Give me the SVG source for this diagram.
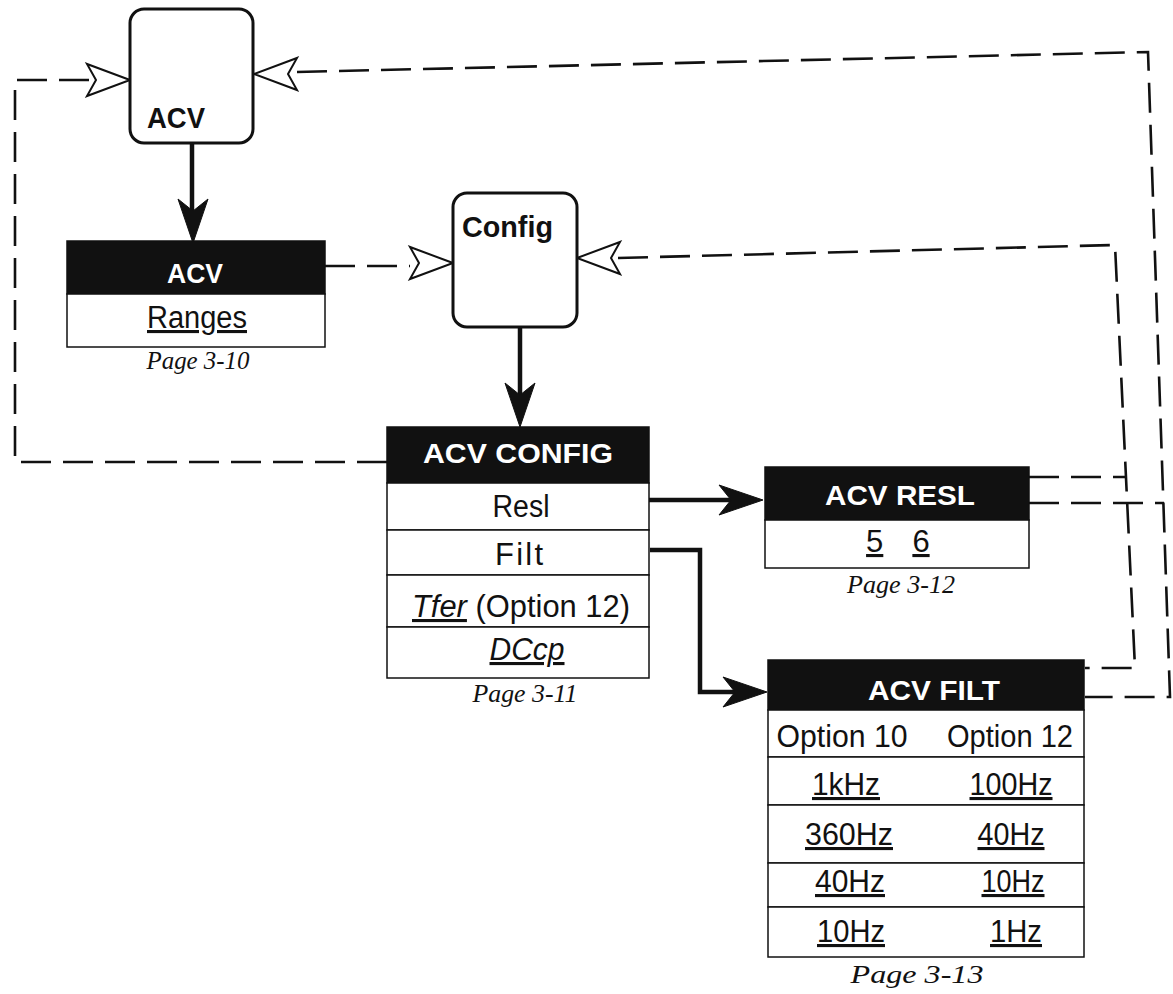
<svg xmlns="http://www.w3.org/2000/svg" width="1173" height="994" viewBox="0 0 1173 994">
<style>
.bg{fill:#fff}
.hdr{fill:#111;stroke:#111;stroke-width:1.5}
.cell{fill:#fff;stroke:#111;stroke-width:1.5}
.box{fill:#fff;stroke:#111;stroke-width:3}
.ht{font-family:'Liberation Sans',Arial,Helvetica,sans-serif;font-weight:bold;font-size:28px;fill:#fff;text-anchor:middle}
.bt{font-family:'Liberation Sans',Arial,Helvetica,sans-serif;font-weight:bold;font-size:29px;fill:#111}
.t{font-family:'Liberation Sans',Arial,Helvetica,sans-serif;font-size:31px;fill:#111;text-anchor:middle}
.u{text-decoration:underline}
.pg{font-family:'Liberation Serif','Times New Roman',serif;font-style:italic;font-size:25px;fill:#111;text-anchor:middle}
.dash{fill:none;stroke:#111;stroke-width:2.6;stroke-dasharray:30 12}
.solid{fill:none;stroke:#111;stroke-width:4.5}
.hollow{fill:#fff;stroke:#111;stroke-width:2;stroke-linejoin:miter}
.filled{fill:#111;stroke:#111;stroke-width:1}
</style>
<defs>
<path id="ha" d="M0,0 L-43,-16 L-34,0 L-43,16 Z"/>
<path id="fa" d="M0,0 L-44,-15 L-32,0 L-44,15 Z"/>
</defs>
<rect class="bg" x="0" y="0" width="1173" height="994"/>

<g id="connectors">
  <path class="dash" d="M387,462 H15 V80 H92"/>
  <path class="dash" d="M297,72 L1148,52 L1170,697 L1085,697"/>
  <path class="dash" d="M1029,503 L1164,503"/>
  <path class="dash" d="M618,258 L1115,245 L1135,668 L1085,668"/>
  <path class="dash" d="M1029,477 L1126,477"/>
  <path class="dash" d="M325,266 H410"/>
  <path class="solid" d="M192,143 V212"/>
  <path class="solid" d="M520,327 V395"/>
  <path class="solid" d="M649,500 H735"/>
  <path class="solid" d="M650,550 H700 V692 H738"/>
  <use href="#fa" class="filled" transform="translate(193,243) rotate(90)"/>
  <use href="#fa" class="filled" transform="translate(520,427) rotate(90)"/>
  <use href="#fa" class="filled" transform="translate(763,500)"/>
  <use href="#fa" class="filled" transform="translate(767,692)"/>
  <use href="#ha" class="hollow" transform="translate(130,80)"/>
  <use href="#ha" class="hollow" transform="translate(254,74) scale(-1,1)"/>
  <use href="#ha" class="hollow" transform="translate(453,263)"/>
  <use href="#ha" class="hollow" transform="translate(577,258) scale(-1,1)"/>
</g>

<g id="acv-key">
  <rect class="box" x="130" y="9" width="123" height="134" rx="14"/>
  <text class="bt" x="147" y="128" textLength="58" lengthAdjust="spacingAndGlyphs">ACV</text>
</g>

<g id="config-key">
  <rect class="box" x="453" y="193" width="124" height="134" rx="14"/>
  <text class="bt" x="462" y="237" textLength="91" lengthAdjust="spacingAndGlyphs">Config</text>
</g>

<g id="acv-menu">
  <rect class="hdr" x="67" y="241" width="258" height="53"/>
  <rect class="cell" x="67" y="294" width="258" height="53"/>
  <text class="ht" x="195" y="283" textLength="56" lengthAdjust="spacingAndGlyphs">ACV</text>
  <text class="t u" x="197" y="328" textLength="100" lengthAdjust="spacingAndGlyphs">Ranges</text>
  <text class="pg" x="198" y="369" textLength="103" lengthAdjust="spacingAndGlyphs">Page 3-10</text>
</g>

<g id="acv-config-menu">
  <rect class="hdr" x="387" y="427" width="262" height="56"/>
  <rect class="cell" x="387" y="483" width="262" height="47"/>
  <rect class="cell" x="387" y="530" width="262" height="45"/>
  <rect class="cell" x="387" y="575" width="262" height="52"/>
  <rect class="cell" x="387" y="627" width="262" height="51"/>
  <text class="ht" x="518" y="463" textLength="190" lengthAdjust="spacingAndGlyphs">ACV CONFIG</text>
  <text class="t" x="521" y="517" textLength="57" lengthAdjust="spacingAndGlyphs">Resl</text>
  <text class="t" x="519" y="565" textLength="48" lengthAdjust="spacing">Filt</text>
  <text class="t" x="521" y="617" textLength="218" lengthAdjust="spacingAndGlyphs"><tspan class="u" font-style="italic">Tfer</tspan> (Option 12)</text>
  <text class="t u" x="527" y="660" font-style="italic" textLength="75" lengthAdjust="spacingAndGlyphs">DCcp</text>
  <text class="pg" x="525" y="702" textLength="105" lengthAdjust="spacingAndGlyphs">Page 3-11</text>
</g>

<g id="acv-resl-menu">
  <rect class="hdr" x="765" y="467" width="264" height="53"/>
  <rect class="cell" x="765" y="520" width="264" height="48"/>
  <text class="ht" x="900" y="505" textLength="150" lengthAdjust="spacingAndGlyphs">ACV RESL</text>
  <text class="t" y="552"><tspan class="u" x="879">5</tspan> <tspan class="u" x="921">6</tspan></text>
  <text class="pg" x="901" y="593" textLength="108" lengthAdjust="spacingAndGlyphs">Page 3-12</text>
</g>

<g id="acv-filt-menu">
  <rect class="hdr" x="768" y="660" width="316" height="50"/>
  <rect class="cell" x="768" y="710" width="316" height="47"/>
  <rect class="cell" x="768" y="757" width="316" height="48"/>
  <rect class="cell" x="768" y="805" width="316" height="58"/>
  <rect class="cell" x="768" y="863" width="316" height="44"/>
  <rect class="cell" x="768" y="907" width="316" height="50"/>
  <text class="ht" x="934" y="700" textLength="132" lengthAdjust="spacingAndGlyphs">ACV FILT</text>
  <text class="t" x="842" y="747" textLength="131" lengthAdjust="spacingAndGlyphs">Option 10</text>
  <text class="t" x="1010" y="747" textLength="126" lengthAdjust="spacingAndGlyphs">Option 12</text>
  <text class="t u" x="846" y="795" textLength="68" lengthAdjust="spacingAndGlyphs">1kHz</text>
  <text class="t u" x="1011" y="795" textLength="83" lengthAdjust="spacingAndGlyphs">100Hz</text>
  <text class="t u" x="849" y="845" textLength="88" lengthAdjust="spacingAndGlyphs">360Hz</text>
  <text class="t u" x="1011" y="845" textLength="67" lengthAdjust="spacingAndGlyphs">40Hz</text>
  <text class="t u" x="850" y="892" textLength="70" lengthAdjust="spacingAndGlyphs">40Hz</text>
  <text class="t u" x="1013" y="892" textLength="63" lengthAdjust="spacingAndGlyphs">10Hz</text>
  <text class="t u" x="851" y="942" textLength="68" lengthAdjust="spacingAndGlyphs">10Hz</text>
  <text class="t u" x="1016" y="942" textLength="52" lengthAdjust="spacingAndGlyphs">1Hz</text>
  <text class="pg" x="917" y="983" textLength="133" lengthAdjust="spacingAndGlyphs">Page 3-13</text>
</g>
</svg>
